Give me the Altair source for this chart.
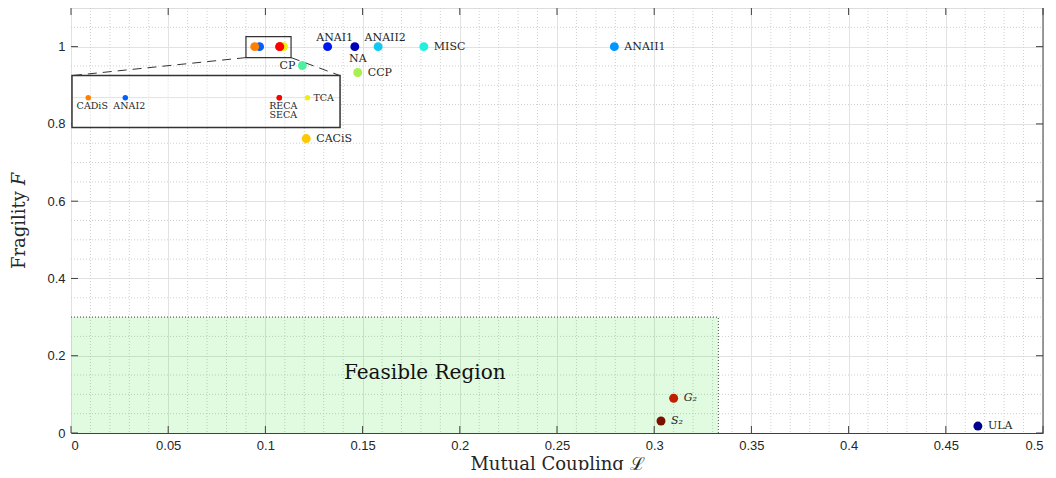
import altair as alt
import pandas as pd

# ---------------- data ----------------
NAMES = ["ANAI2", "CADiS", "SECA", "TCA", "RECA", "ANAI1", "NA", "ANAII2", "MISC",
         "ANAII1", "CP", "CCP", "CACiS", "G₂", "S₂", "ULA"]
COUPLING = [0.0970, 0.0945, 0.1074, 0.1093, 0.1074, 0.1320, 0.1460, 0.1580, 0.1815,
            0.2795, 0.1190, 0.1475, 0.1210, 0.3100, 0.3035, 0.4665]
FRAGILITY = [1, 1, 1, 1, 1, 1, 1, 1, 1,
             1, 0.951, 0.933, 0.762, 0.090, 0.031, 0.018]
COLORS = ["#0060ff", "#ff8000", "#e81000", "#eeee10", "#ff0000", "#0018f0", "#0000b8",
          "#10c8f0", "#20f0e0", "#0098ff", "#50f0a0", "#a8f050", "#ffc800", "#c02000",
          "#7a1000", "#00008c"]
LABEL_POS = ["none", "none", "none", "none", "none", "above", "below", "above", "right",
             "right", "left", "right", "right", "right_it", "right_it", "right"]
INSET_POS = ["below", "below", "below2", "right", "below", "none", "none", "none", "none",
             "none", "none", "none", "none", "none", "none", "none"]

X_TICKS = [0, 0.05, 0.1, 0.15, 0.2, 0.25, 0.3, 0.35, 0.4, 0.45, 0.5]
Y_TICKS = [0, 0.2, 0.4, 0.6, 0.8, 1.0]
X_MINOR = [round(i * 0.01, 2) for i in range(1, 50) if i % 5]
Y_MINOR = [0.05, 0.1, 0.15, 0.25, 0.3, 0.35, 0.45, 0.5, 0.55, 0.65, 0.7, 0.75, 0.85, 0.9, 0.95, 1.05]

FEASIBLE_X = 0.333
FEASIBLE_Y = 0.3
ZOOM_BOX = [0.090, 0.1132, 0.9716, 1.026]        # x0, x1, y0, y1 (data units)
INSET_BOX = [0.0005, 0.1384, 0.7907, 0.925]      # x0, x1, y0, y1 (data units)
INSET_XDOM = [0.0934, 0.1115]
INSET_YDOM = [0.8849, 1.0849]

W, H = 972, 425
SERIF = "DejaVu Serif"
SANS = "Liberation Sans"

df = pd.DataFrame({"name": NAMES, "x": COUPLING, "y": FRAGILITY, "color": COLORS,
                   "pos": LABEL_POS, "ipos": INSET_POS})


def to_inset_x(v):
    return INSET_BOX[0] + (v - INSET_XDOM[0]) / (INSET_XDOM[1] - INSET_XDOM[0]) * (INSET_BOX[1] - INSET_BOX[0])


def to_inset_y(v):
    return INSET_BOX[2] + (v - INSET_YDOM[0]) / (INSET_YDOM[1] - INSET_YDOM[0]) * (INSET_BOX[3] - INSET_BOX[2])


ins = df[df["ipos"] != "none"].copy()
ins["x"] = ins["x"].map(to_inset_x)
ins["y"] = ins["y"].map(to_inset_y)

xs = alt.Scale(domain=[0, 0.5], nice=False, zero=False)
ys = alt.Scale(domain=[0, 1.1], nice=False, zero=False)

xaxis = alt.Axis(values=X_TICKS, format="~g", grid=True, gridColor="#e2e2e2", gridWidth=1,
                 ticks=False, domain=True, domainColor="#404040", domainWidth=1,
                 labelFont=SANS, labelFontSize=13, labelColor="#262626", labelPadding=6,
                 title="Mutual Coupling ℒ", titleFont=SERIF, titleFontSize=18,
                 titleFontWeight="normal", titleColor="#262626", titleY=36,
                 titleBaseline="alphabetic")
yaxis = alt.Axis(values=Y_TICKS, format="~g", grid=True, gridColor="#e2e2e2", gridWidth=1,
                 ticks=False, domain=False,
                 labelFont=SANS, labelFontSize=13, labelColor="#262626", labelPadding=6,
                 title="Fragility 𝐹", titleFont=SERIF, titleFontSize=18,
                 titleFontWeight="normal", titleColor="#262626", titleX=-52,
                 titleBaseline="middle")


def ex(f="x"):
    return alt.X(f"{f}:Q", scale=xs, axis=xaxis)


def ey(f="y"):
    return alt.Y(f"{f}:Q", scale=ys, axis=yaxis)


layers = []

# minor grid
layers.append(alt.Chart(pd.DataFrame({"x": X_MINOR})).mark_rule(
    color="#cfcfcf", strokeDash=[1, 2], strokeWidth=1).encode(
    x=ex(), y=alt.value(0), y2=alt.value(H)))
layers.append(alt.Chart(pd.DataFrame({"y": Y_MINOR})).mark_rule(
    color="#cfcfcf", strokeDash=[1, 2], strokeWidth=1).encode(
    y=ey(), x=alt.value(0), x2=alt.value(W)))

# feasible region
feas = pd.DataFrame({"x": [0], "x2": [FEASIBLE_X], "y": [0], "y2": [FEASIBLE_Y]})
layers.append(alt.Chart(feas).mark_rect(color="#00dc00", opacity=0.12).encode(
    x=ex(), x2="x2:Q", y=ey(), y2="y2:Q"))
layers.append(alt.Chart(feas).mark_rule(color="#505050", strokeDash=[1, 2], strokeWidth=1).encode(
    x=ex(), x2="x2:Q", y=ey("y2")))
layers.append(alt.Chart(feas).mark_rule(color="#505050", strokeDash=[1, 2], strokeWidth=1).encode(
    x=ex("x2"), y=ey(), y2="y2:Q"))

# tick marks (inward) and right border
tick_style = dict(color="#404040", strokeWidth=1)
layers.append(alt.Chart(pd.DataFrame({"x": X_TICKS})).mark_rule(**tick_style).encode(
    x=ex(), y=alt.value(H), y2=alt.value(H - 7)))
layers.append(alt.Chart(pd.DataFrame({"x": X_TICKS})).mark_rule(**tick_style).encode(
    x=ex(), y=alt.value(0), y2=alt.value(7)))
layers.append(alt.Chart(pd.DataFrame({"y": Y_TICKS})).mark_rule(**tick_style).encode(
    y=ey(), x=alt.value(0), x2=alt.value(7)))
layers.append(alt.Chart(pd.DataFrame({"y": Y_TICKS})).mark_rule(**tick_style).encode(
    y=ey(), x=alt.value(W), x2=alt.value(W - 7)))
layers.append(alt.Chart(pd.DataFrame({"x": [0.5]})).mark_rule(**tick_style).encode(
    x=ex(), y=alt.value(0), y2=alt.value(H)))

# zoom box and connectors
zb = pd.DataFrame({"x": [ZOOM_BOX[0]], "x2": [ZOOM_BOX[1]], "y": [ZOOM_BOX[2]], "y2": [ZOOM_BOX[3]]})
layers.append(alt.Chart(zb).mark_rect(fillOpacity=0, stroke="#333333", strokeWidth=1.2).encode(
    x=ex(), x2="x2:Q", y=ey(), y2="y2:Q"))
conn = pd.DataFrame({"x": [ZOOM_BOX[0], ZOOM_BOX[1]], "y": [ZOOM_BOX[2], ZOOM_BOX[2]],
                     "x2": [INSET_BOX[0], INSET_BOX[1]], "y2": [INSET_BOX[3], INSET_BOX[3]]})
layers.append(alt.Chart(conn).mark_rule(color="#333333", strokeDash=[9, 6], strokeWidth=1).encode(
    x=ex(), x2="x2:Q", y=ey(), y2="y2:Q"))

# inset
ib = pd.DataFrame({"x": [INSET_BOX[0]], "x2": [INSET_BOX[1]], "y": [INSET_BOX[2]], "y2": [INSET_BOX[3]]})
layers.append(alt.Chart(ib).mark_rect(fill="white", stroke=None).encode(
    x=ex(), x2="x2:Q", y=ey(), y2="y2:Q"))
inset_vlines = pd.DataFrame({"x": [v for v in X_MINOR + X_TICKS if INSET_BOX[0] < v < INSET_BOX[1]]})
inset_vlines["y"] = INSET_BOX[2]
inset_vlines["y2"] = INSET_BOX[3]
layers.append(alt.Chart(inset_vlines).mark_rule(color="#d8d8d8", strokeDash=[1, 2], strokeWidth=1).encode(
    x=ex(), y=ey(), y2="y2:Q"))
ihl = pd.DataFrame({"x": [INSET_BOX[0]], "x2": [INSET_BOX[1]], "y": [to_inset_y(1.0)]})
layers.append(alt.Chart(ihl).mark_rule(color="#e2e2e2", strokeWidth=1).encode(
    x=ex(), x2="x2:Q", y=ey()))
layers.append(alt.Chart(ib).mark_rect(fillOpacity=0, stroke="#333333", strokeWidth=1.5).encode(
    x=ex(), x2="x2:Q", y=ey(), y2="y2:Q"))
layers.append(alt.Chart(ins).mark_circle(size=30, opacity=1).encode(
    x=ex(), y=ey(), color=alt.Color("color:N", scale=None)))
it_font = dict(font=SERIF, fontSize=9.5, color="#262626")
layers.append(alt.Chart(ins).transform_filter("datum.ipos == 'below'").mark_text(
    align="center", baseline="middle", dx=4, dy=8, **it_font).encode(x=ex(), y=ey(), text="name:N"))
layers.append(alt.Chart(ins).transform_filter("datum.ipos == 'below2'").mark_text(
    align="center", baseline="middle", dx=4, dy=17, **it_font).encode(x=ex(), y=ey(), text="name:N"))
layers.append(alt.Chart(ins).transform_filter("datum.ipos == 'right'").mark_text(
    align="left", baseline="middle", dx=6, dy=0, **it_font).encode(x=ex(), y=ey(), text="name:N"))

# main points
layers.append(alt.Chart(df).mark_circle(size=80, opacity=1).encode(
    x=ex(), y=ey(), color=alt.Color("color:N", scale=None)))

lf = dict(font=SERIF, fontSize=11, color="#262626")
layers.append(alt.Chart(df).transform_filter("datum.pos == 'right'").mark_text(
    align="left", baseline="middle", dx=10, **lf).encode(x=ex(), y=ey(), text="name:N"))
layers.append(alt.Chart(df).transform_filter("datum.pos == 'right_it'").mark_text(
    align="left", baseline="middle", dx=10, fontStyle="italic", **lf).encode(x=ex(), y=ey(), text="name:N"))
layers.append(alt.Chart(df).transform_filter("datum.pos == 'left'").mark_text(
    align="right", baseline="middle", dx=-7, **lf).encode(x=ex(), y=ey(), text="name:N"))
layers.append(alt.Chart(df).transform_filter("datum.pos == 'above'").mark_text(
    align="center", baseline="middle", dx=7, dy=-9, **lf).encode(x=ex(), y=ey(), text="name:N"))
layers.append(alt.Chart(df).transform_filter("datum.pos == 'below'").mark_text(
    align="center", baseline="middle", dx=3, dy=12, **lf).encode(x=ex(), y=ey(), text="name:N"))

# Feasible Region text
fr = pd.DataFrame({"x": [0.1404], "y": [0.155], "t": ["Feasible Region"]})
layers.append(alt.Chart(fr).mark_text(align="left", baseline="middle", font=SERIF, fontSize=20,
                                      color="#111111").encode(x=ex(), y=ey(), text="t:N"))

chart = alt.layer(*layers).properties(
    width=W, height=H,
    autosize=alt.AutoSizeParams(type="none"),
    padding={"left": 63, "top": 0, "right": 5, "bottom": 37},
).configure_view(stroke=None).configure(background="white")

chart.save("out.html", embed_options={"renderer": "svg", "actions": False})
